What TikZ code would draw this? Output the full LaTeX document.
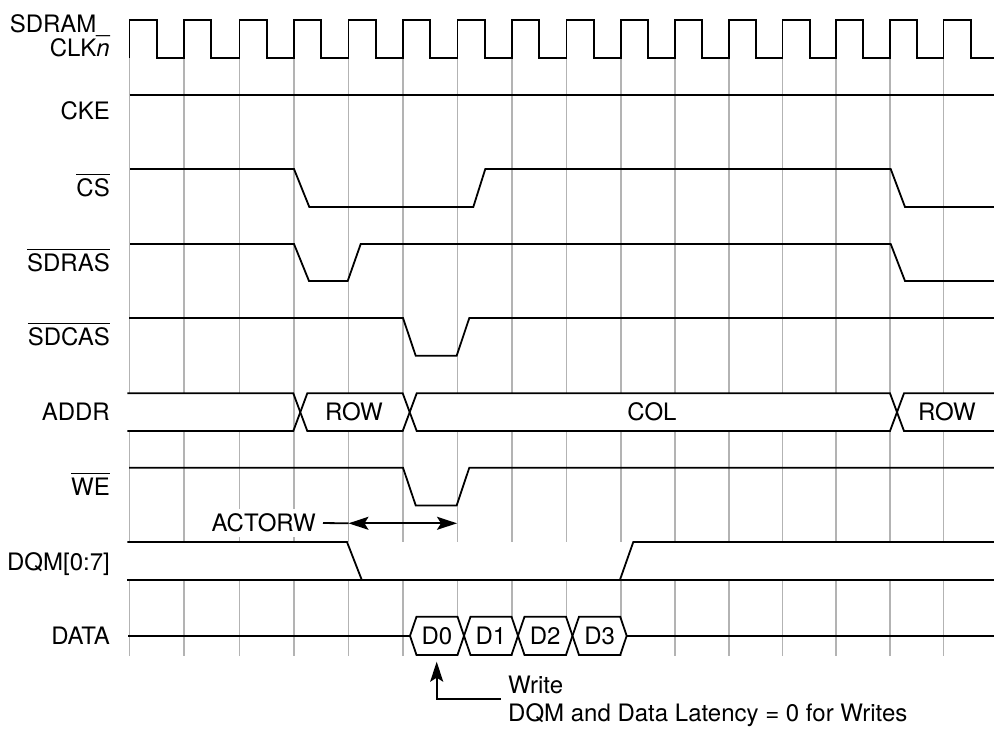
\documentclass[tikz,border=0pt]{standalone}
\usepackage{fontspec}
\setmainfont{TeX Gyre Heros}
\usetikzlibrary{arrows.meta}
\definecolor{gridgray}{HTML}{B3B3B3}
\newsavebox\ovlbox
\newcommand{\ovl}[1]{\sbox\ovlbox{#1}\rlap{\rule[21.5pt]{\wd\ovlbox}{1.5pt}}\usebox\ovlbox}
\begin{document}
\begin{tikzpicture}[x=1pt,y=-1pt,
  sig/.style={line width=1.8pt, line join=miter, black},
  gridline/.style={line width=1.6pt, color=gridgray},
  busshape/.style={sig, fill=white},
  lbl/.style={anchor=base east, inner sep=0pt, font=\fontsize{24}{28}\selectfont},
  txt/.style={anchor=base, inner sep=0pt, font=\fontsize{24}{28}\selectfont},
  note/.style={anchor=base west, inner sep=0pt, font=\fontsize{24}{28}\selectfont},
  tip/.style={-{Stealth[length=20pt,width=13pt,inset=4pt]}},
  dtip/.style={{Stealth[length=20pt,width=13pt,inset=4pt]}-{Stealth[length=20pt,width=13pt,inset=4pt]}},
]
\useasboundingbox (0,0) rectangle (994,730);

% grid
\foreach \x in {129.5,184,239.5,294,348.5,403,457.5,512,566.5,621,675,729,782.5,836,890,943.5}
  \draw[gridline] (\x,57.7) -- (\x,655.7);

% clock
\draw[sig] (129.5,57.7)
  \foreach \x in {129.5,184,239.5,294,348.5,403,457.5,512,566.5,621,675,729,782.5,836,890,943.5}
  { -- (\x,57.7) -- (\x,20) -- ({\x+27.3},20) -- ({\x+27.3},57.7) } -- (994,57.7);

% CKE
\draw[sig] (129.5,95) -- (994,95);

% CS
\draw[sig] (130,169) -- (294,169) -- (309.3,207) -- (473.3,207) -- (485.3,169)
  -- (890.7,169) -- (905,207) -- (994,207);

% SDRAS
\draw[sig] (130,244) -- (294,244) -- (309,281) -- (347.7,281) -- (360.7,244)
  -- (890.7,244) -- (905,281) -- (994,281);

% SDCAS
\draw[sig] (129,318) -- (403,318) -- (415.7,355.7) -- (456.7,355.7) -- (469.3,318) -- (994,318);

% ADDR bus
\fill[white] (127.3,393.3) rectangle (293.3,431);
\draw[sig] (127.3,393.3) -- (293.3,393.3) -- (300.3,412.2) -- (293.3,431) -- (127.3,431);
\filldraw[busshape] (300.3,412.2) -- (307.3,393.3) -- (402.7,393.3) -- (409.7,412.2) -- (402.7,431) -- (307.3,431) -- cycle;
\filldraw[busshape] (409.7,412.2) -- (416.7,393.3) -- (890,393.3) -- (897,412.2) -- (890,431) -- (416.7,431) -- cycle;
\fill[white] (904,393.3) rectangle (994,431);
\draw[sig] (994,393.3) -- (904,393.3) -- (897,412.2) -- (904,431) -- (994,431);
\node[txt] (row1) at (354,420) {ROW};
\node[txt] (col) at (652,420) {COL};
\node[txt] (row2) at (947,420) {ROW};

% WE
\draw[sig] (129,467.7) -- (403,467.7) -- (415.7,505.4) -- (456.7,505.4) -- (469.3,467.7) -- (994,467.7);

% DQM
\fill[white] (127.3,542) rectangle (994,579.7);
\draw[sig] (127.3,579.7) -- (994,579.7);
\draw[sig] (127.3,542) -- (347,542) -- (361.7,579.7);
\draw[sig] (620,579.7) -- (633.3,542) -- (994,542);

% ACTORW
\node[anchor=base east, inner xsep=0pt, inner ysep=5pt, fill=white,
      font=\fontsize{24}{28}\selectfont] (actorw) at (316,531.7) {ACTORW};
\coordinate (aL) at (348.5,523.3);
\coordinate (aR) at (457,523.3);
\draw[sig, shorten <=7pt] (actorw.east) -- (aL);
\draw[sig, dtip] (aL) -- (aR);

% DATA
\draw[sig] (128,635.8) -- (410,635.8);
\foreach \a/\b/\t in {410/464/D0, 464/518/D1, 518/572.5/D2, 572.5/626.7/D3}{
  \filldraw[busshape] (\a,635.8) -- ({\a+6.5},616.7) -- ({\b-6.5},616.7) -- (\b,635.8)
    -- ({\b-6.5},655) -- ({\a+6.5},655) -- cycle;
  \node[txt] (\t) at ({(\a+\b)/2},644.5) {\t};
}
\draw[sig] (626.7,635.8) -- (994,635.8);

% Write note
\node[note] (write) at (508,693) {Write};
\node[note] (lat) at (508,721) {DQM and Data Latency = 0 for Writes};
\coordinate (wtip) at (436.7,661.7);
\coordinate (wend) at (500.7,699);
\draw[sig, tip] (wend) -- (wend -| wtip) -- (wtip);

% labels
\node[lbl] (l1) at (110,32.5) {SDRAM\_};
\node[lbl] (l2) at (110,57) {CLK\textit{n}};
\node[lbl] (l3) at (110,120) {CKE};
\node[lbl] (l4) at (110,197) {\ovl{CS}};
\node[lbl] (l5) at (110,272) {\ovl{SDRAS}};
\node[lbl] (l6) at (110,345.5) {\ovl{SDCAS}};
\node[lbl] (l7) at (110,420.5) {ADDR};
\node[lbl] (l8) at (110,495.5) {\ovl{WE}};
\node[lbl] (l9) at (110,570) {DQM[0:7]};
\node[lbl] (l10) at (110,644.5) {DATA};
\end{tikzpicture}
\end{document}
